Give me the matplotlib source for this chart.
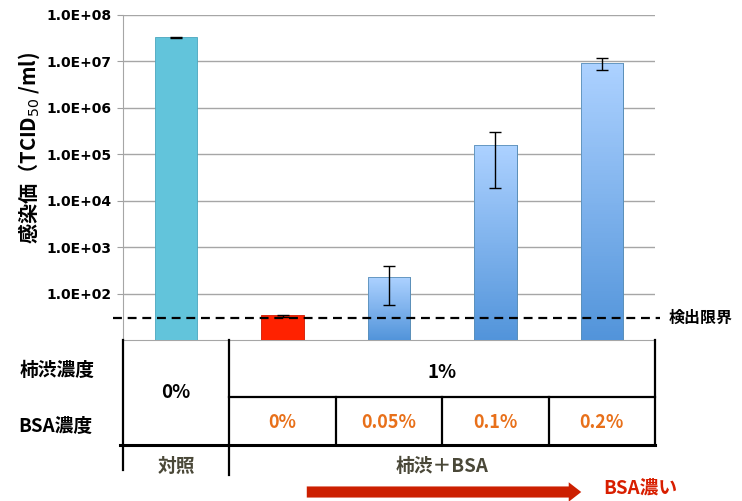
import matplotlib
matplotlib.use("Agg")
import matplotlib.pyplot as plt
import matplotlib.transforms as mtransforms
import numpy as np
from matplotlib.colors import LinearSegmentedColormap

plt.rcParams["font.family"] = ["Noto Sans CJK JP", "DejaVu Sans"]

# data
groups = ["対照", "1%+0%", "1%+0.05%", "1%+0.1%", "1%+0.2%"]
titer = [3.3e7, 33, 230, 1.6e5, 9.1e6]
err_low = [3.2e7, 31, 57, 1.9e4, 6.5e6]
err_high = [3.4e7, 34, 400, 3.0e5, 1.17e7]
detect_limit = 30
yticks = [1e2, 1e3, 1e4, 1e5, 1e6, 1e7, 1e8]
kaki_labels = ["0%", "1%"]
bsa_labels = ["0%", "0.05%", "0.1%", "0.2%"]
group_labels = ["対照", "柿渋＋BSA"]

W, H = 742, 501
fig = plt.figure(figsize=(W / 100, H / 100), dpi=100)
ax = fig.add_axes([123 / W, 1 - 340 / H, 532 / W, 325 / H])
ov = fig.add_axes([0, 0, 1, 1], zorder=5)
ov.set_xlim(0, W)
ov.set_ylim(H, 0)
ov.axis("off")
ov.patch.set_alpha(0)

x = np.arange(len(groups))
lo = np.array(titer) - np.array(err_low)
hi = np.array(err_high) - np.array(titer)

ax.set_yscale("log")
ax.set_ylim(10, 1e8)
ax.set_xlim(-0.5, 4.5)

colors = ["#62C4DB", "#FF2200", "#8BBBF0", "#8BBBF0", "#8BBBF0"]
bars = ax.bar(x, titer, width=0.4, bottom=1, color=colors,
              edgecolor="#5A8FB8", linewidth=0.6, zorder=3)
bars[0].set_edgecolor("#4AA6BE")
bars[1].set_edgecolor("#D01800")

# vertical gradient on the blue bars: stacked thin slices, even on screen
cmap = LinearSegmentedColormap.from_list("bl", ["#5294DA", "#ACD1FF"])
for xi, v in zip(x[2:], titer[2:]):
    edges = np.logspace(1, np.log10(v), 120)
    edges[0] = 1
    fr = np.linspace(0, 1, len(edges) - 1)
    ax.bar(np.full(len(fr), xi), np.diff(edges), bottom=edges[:-1], width=0.4,
           color=cmap(fr), linewidth=0, zorder=3.5)
    ax.bar(xi, v, bottom=1, width=0.4, fill=False, edgecolor="#5A8FB8",
           linewidth=0.6, zorder=3.6)

ax.errorbar(x, titer, yerr=[lo, hi], fmt="none", ecolor="black",
            elinewidth=1, capsize=4, capthick=1, zorder=5)

ax.plot([-0.594, 4.547], [detect_limit, detect_limit], ls=(0, (4, 2.6)),
        color="black", lw=1.6, clip_on=False, zorder=6)
ov.text(669, 318, "検出限界", fontsize=11.5, fontweight="bold", va="center", ha="left")

ax.set_ylim(10, 1e8)
ax.set_yticks(yticks)
ax.set_yticklabels([f"{t:.1E}" for t in yticks],
                   fontweight="bold", fontsize=10, family="DejaVu Sans")
ax.yaxis.set_minor_locator(matplotlib.ticker.NullLocator())
ax.tick_params(axis="y", length=4, color="#A0A0A0", pad=4)
ax.set_xticks([])
ax.grid(axis="y", color="#A6A6A6", lw=1, zorder=0)
for s in ["top", "right"]:
    ax.spines[s].set_visible(False)
ax.spines["left"].set_color("#A6A6A6")
ax.spines["bottom"].set_color("#A6A6A6")

ov.text(29, 148, "感染価（TCID$_{50}$ /ml)", rotation=90, fontsize=14.5,
        fontweight="bold", ha="center", va="center")

# table below the chart
tr = mtransforms.blended_transform_factory(ax.transData, ov.transData)
kw = dict(color="black", lw=1.6, transform=tr, clip_on=False)
ov.plot([-0.5, -0.5], [340, 470], **kw)
ov.plot([0.5, 0.5], [340, 475], **kw)
ov.plot([4.5, 4.5], [340, 445], **kw)
ov.plot([0.5, 4.5], [397, 397], **kw)
for b in [1.5, 2.5, 3.5]:
    ov.plot([b, b], [397, 445], **kw)
ov.plot([-0.53, 4.5], [445, 445], color="black", lw=2.2, transform=tr, clip_on=False)

ov.text(57, 370, "柿渋濃度", fontsize=13.5, fontweight="bold", ha="center", va="center")
ov.text(55, 426, "BSA濃度", fontsize=13.5, fontweight="bold", ha="center", va="center")
ov.text(0, 393, kaki_labels[0], fontsize=13.5, fontweight="bold", ha="center", va="center", transform=tr)
ov.text(2.5, 372, kaki_labels[1], fontsize=13.5, fontweight="bold", ha="center", va="center", transform=tr)
for i, lab in enumerate(bsa_labels):
    ov.text(i + 1, 422, lab, fontsize=13, fontweight="bold", color="#E8701A",
            ha="center", va="center", transform=tr)
ov.text(0, 467, group_labels[0], fontsize=13.5, fontweight="bold", color="#4A4838",
        ha="center", va="center", transform=tr)
ov.text(2.5, 467, group_labels[1], fontsize=13.5, fontweight="bold", color="#4A4838",
        ha="center", va="center", transform=tr)

ov.annotate("", xy=(584, 492), xytext=(304, 492),
            arrowprops=dict(arrowstyle="simple,head_length=0.9,head_width=1.4,tail_width=0.8",
                            color="#CC1F00", lw=0))
ov.text(640, 488, "BSA濃い", fontsize=13.5, fontweight="bold", color="#D81E00",
        ha="center", va="center")

fig.savefig("out.png", dpi=100)
